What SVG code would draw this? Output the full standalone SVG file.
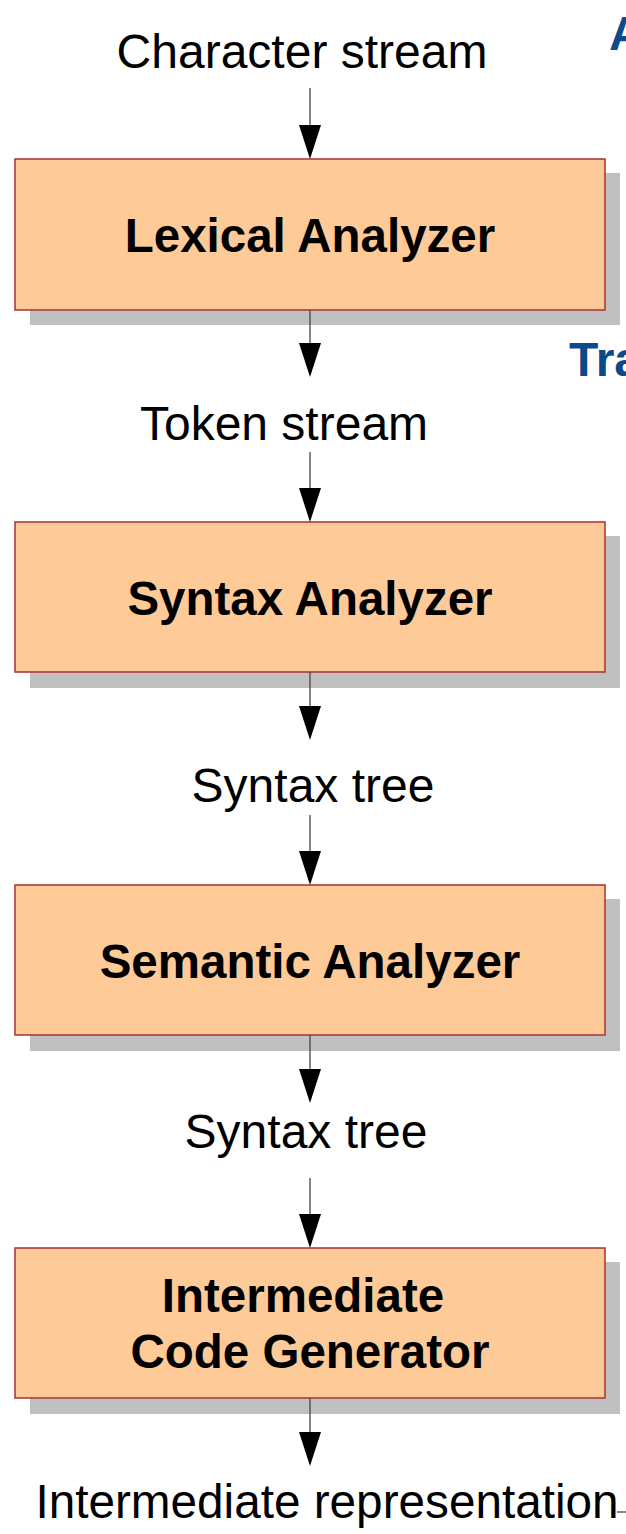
<svg xmlns="http://www.w3.org/2000/svg" width="626" height="1534" viewBox="0 0 626 1534">
  <style>
    .shadow { fill: #c0c0c0; }
    .box { fill: #fecb98; stroke: #a8322e; stroke-width: 1.5; }
    .label { font-family: "Liberation Sans", Arial, sans-serif; font-size: 48px; fill: #000; text-anchor: middle; }
    .title { font-family: "Liberation Sans", Arial, sans-serif; font-size: 47.5px; font-weight: bold; fill: #000; text-anchor: middle; }
    .heading { font-family: "Liberation Sans", Arial, sans-serif; font-size: 48px; font-weight: bold; fill: #0c4a8c; }
    .flow { stroke: #444; stroke-width: 1.3; fill: none; }
    .head { fill: #000; }
  </style>

  <rect width="626" height="1534" fill="#fff"/>

  <!-- partially visible headings on the right edge -->
  <text class="heading" x="609" y="50">A</text>
  <text class="heading" x="569" y="376">Tra</text>

  <!-- stream labels -->
  <g id="labels">
    <text class="label" x="302" y="68">Character stream</text>
    <text class="label" x="284" y="440">Token stream</text>
    <text class="label" x="313" y="802">Syntax tree</text>
    <text class="label" x="306" y="1148">Syntax tree</text>
    <text class="label" x="327" y="1518" style="font-size:47.7px">Intermediate representation</text>
  </g>

  <g id="lexical-analyzer">
    <rect class="shadow" x="30" y="173" width="590" height="152"/>
    <rect class="box" x="15" y="159" width="590" height="151"/>
    <text class="title" x="310" y="252">Lexical Analyzer</text>
  </g>

  <g id="syntax-analyzer">
    <rect class="shadow" x="30" y="536" width="590" height="152"/>
    <rect class="box" x="15" y="522" width="590" height="150"/>
    <text class="title" x="310" y="615">Syntax Analyzer</text>
  </g>

  <g id="semantic-analyzer">
    <rect class="shadow" x="30" y="899" width="590" height="152"/>
    <rect class="box" x="15" y="885" width="590" height="150"/>
    <text class="title" x="310" y="978">Semantic Analyzer</text>
  </g>

  <g id="intermediate-code-generator">
    <rect class="shadow" x="30" y="1262" width="590" height="152"/>
    <rect class="box" x="15" y="1248" width="590" height="150"/>
    <text class="title" x="303" y="1312">Intermediate</text>
    <text class="title" x="310" y="1368">Code Generator</text>
  </g>

  <!-- connectors, drawn over the box shadows -->
  <g id="connectors">
    <line class="flow" x1="310" y1="88" x2="310" y2="130"/>
    <polygon class="head" points="299,125 321,125 310,159"/>
    <line class="flow" x1="310" y1="310" x2="310" y2="348"/>
    <polygon class="head" points="299,343 321,343 310,377"/>
    <line class="flow" x1="310" y1="452" x2="310" y2="493"/>
    <polygon class="head" points="299,488 321,488 310,522"/>
    <line class="flow" x1="310" y1="672" x2="310" y2="711"/>
    <polygon class="head" points="299,706 321,706 310,740"/>
    <line class="flow" x1="310" y1="815" x2="310" y2="856"/>
    <polygon class="head" points="299,851 321,851 310,885"/>
    <line class="flow" x1="310" y1="1035" x2="310" y2="1074"/>
    <polygon class="head" points="299,1069 321,1069 310,1103"/>
    <line class="flow" x1="310" y1="1178" x2="310" y2="1219"/>
    <polygon class="head" points="299,1214 321,1214 310,1248"/>
    <line class="flow" x1="310" y1="1398" x2="310" y2="1437"/>
    <polygon class="head" points="299,1432 321,1432 310,1466"/>
    <line class="flow" x1="617" y1="1512" x2="626" y2="1512"/>
  </g>
</svg>
